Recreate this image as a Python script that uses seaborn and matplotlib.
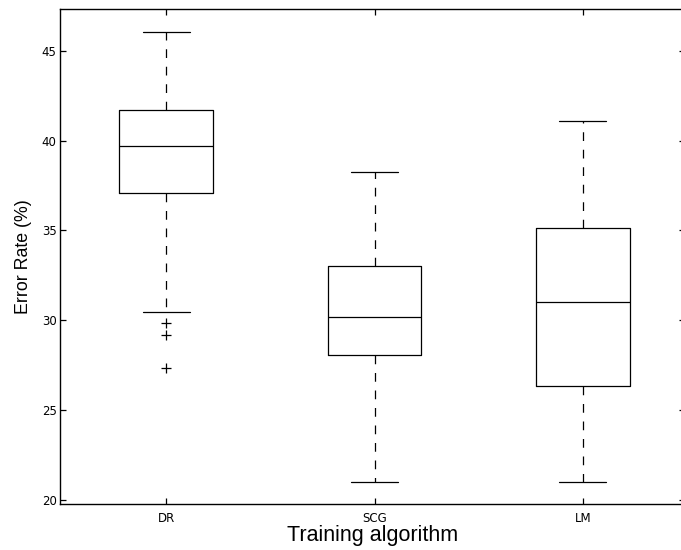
import matplotlib
matplotlib.use("Agg")
import matplotlib.pyplot as plt
import seaborn as sns
import pandas as pd

# Box statistics per training algorithm (error rate, %)
algorithms = ["DR", "SCG", "LM"]
whisker_low = [30.47, 21.0, 21.0]
q1 = [37.08, 28.07, 26.32]
median = [39.72, 30.20, 31.04]
q3 = [41.69, 33.01, 35.13]
whisker_high = [46.06, 38.25, 41.10]
outliers = [[27.32, 29.20, 29.83], [], []]

yticks = [20, 25, 30, 35, 40, 45]


def box_sample(lo, a, m, b, hi, extra):
    """Values whose linear-interpolated quartiles equal (a, m, b)
    and whose whiskers end at lo and hi."""
    below = sorted(extra) + [lo]
    k = len(below)
    return below + [a] * k + [m] + [b] * k + [hi] * k


rows = []
for i, name in enumerate(algorithms):
    vals = box_sample(whisker_low[i], q1[i], median[i], q3[i],
                      whisker_high[i], outliers[i])
    rows += [(name, v) for v in vals]
df = pd.DataFrame(rows, columns=["algorithm", "error"])

sns.set_style("ticks")
plt.rcParams["font.family"] = ["Liberation Sans", "DejaVu Sans"]
plt.rcParams["text.color"] = "black"
plt.rcParams["axes.labelcolor"] = "black"

W, H = 681, 550
fig = plt.figure(figsize=(W / 100, H / 100), dpi=100)
left, right, top, bottom = 60, 685, 9.3, 504
ax = fig.add_axes([left / W, (H - bottom) / H, (right - left) / W, (bottom - top) / H])

lw = 0.9
sns.boxplot(
    data=df, x="algorithm", y="error", order=algorithms, ax=ax,
    width=0.45, fill=False, color="black", linecolor="black", linewidth=lw,
    whis=1.5,
    whiskerprops=dict(linestyle=(0, (7, 7)), color="black", linewidth=lw),
    capprops=dict(color="black", linewidth=lw),
    medianprops=dict(color="black", linewidth=lw),
    boxprops=dict(color="black", linewidth=lw),
    flierprops=dict(marker="+", markersize=7, markeredgecolor="black",
                    markerfacecolor="none", markeredgewidth=0.9),
)

ax.set_xlim(-0.51, 2.49)
ax.set_ylim(19.77, 47.31)
ax.set_yticks(yticks)
ax.set_yticklabels([str(t) for t in yticks])

for side in ["top", "bottom", "left", "right"]:
    ax.spines[side].set_visible(True)
    ax.spines[side].set_color("black")
    ax.spines[side].set_linewidth(1.0)

ax.tick_params(direction="in", length=4, width=0.9, top=True, right=True,
               colors="black")
ax.tick_params(axis="y", pad=2.5)
ax.tick_params(axis="x", pad=6)
for lab in ax.get_xticklabels() + ax.get_yticklabels():
    lab.set_fontfamily("DejaVu Sans")
    lab.set_fontsize(8.5)

ax.set_xlabel("Training algorithm", fontsize=15.5, color="black")
ax.set_ylabel("Error Rate (%)", fontsize=12.8, color="black")
ax.xaxis.label.set_va("baseline")
ax.yaxis.label.set_va("baseline")
ax.xaxis.set_label_coords(0.5, -(541.5 - bottom) / (bottom - top))
ax.yaxis.set_label_coords(-(left - 28) / (right - left), 0.5)

fig.savefig("out.png", dpi=100)
